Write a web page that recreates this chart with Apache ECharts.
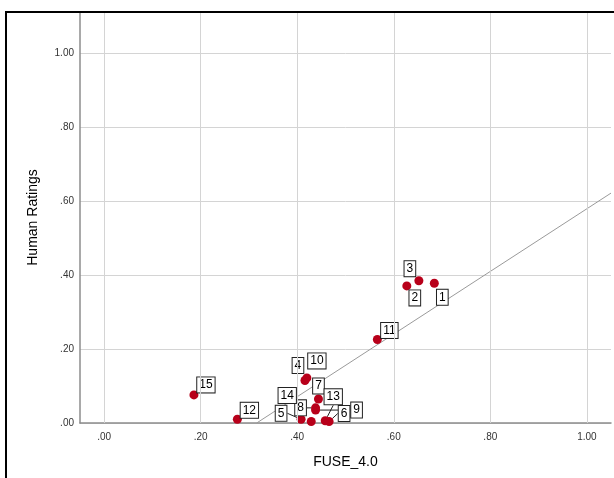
<!DOCTYPE html>
<html>
<head>
<meta charset="utf-8">
<script src="https://cdn.jsdelivr.net/npm/echarts@6/dist/echarts.min.js"></script>
<style>
  html, body { margin: 0; padding: 0; background: #fff; }
  #chart { width: 614px; height: 478px; }
</style>
</head>
<body>
<div id="chart"></div>
<script>
// case numbers and their scores
var caseIds = ['1','2','3','4','5','6','7','8','9','10','11','12','13','14','15'];
var fuseScores = [0.684, 0.627, 0.652, 0.416, 0.408, 0.466, 0.444, 0.438, 0.438, 0.420, 0.566, 0.276, 0.458, 0.429, 0.186];
var humanRatings = [0.378, 0.371, 0.385, 0.115, 0.010, 0.004, 0.065, 0.041, 0.035, 0.122, 0.226, 0.010, 0.006, 0.004, 0.076];

// fit line end points
var fitX = [0.316, 1.05];
var fitY = [0.0, 0.622];

var gridTicks = [0, 0.2, 0.4, 0.6, 0.8, 1.0];

// where each case label sits relative to its point (px), and which get a leader line
var labelOffsets = [[8,14],[8,12],[-9,-12],[-7,-15],[-20,-6],[15,-8],[0,-13],[-15,0],[41,0],[10,-17],[12,-9],[12,-9],[8,-24],[-24,-26],[12,-10]];
var leaderLines = ['5','6','8','9','13'];

var fmt = function (v) {
  return v.toFixed(2).replace(/^0/, '');
};

var points = caseIds.map(function (id, i) {
  var item = { value: [fuseScores[i], humanRatings[i]], name: id };
  if (leaderLines.indexOf(id) >= 0) {
    item.labelLine = { show: true, lineStyle: { color: '#222', width: 1 } };
  }
  return item;
});

var myChart = echarts.init(document.getElementById('chart'));

var axisFont = { fontFamily: 'Liberation Sans, Arial, sans-serif', fontSize: 10, color: '#333' };

var option = {
  backgroundColor: '#fff',
  animation: false,
  grid: { left: 80, right: -5.5, top: 12, bottom: 55 },
  xAxis: {
    type: 'value',
    min: -0.05,
    max: 1.05,
    interval: 0.05,
    name: 'FUSE_4.0',
    nameLocation: 'middle',
    nameGap: 32,
    nameTextStyle: { fontFamily: 'Liberation Sans, Arial, sans-serif', fontSize: 14, color: '#000' },
    axisLine: { show: true, onZero: false, lineStyle: { color: '#8c8c8c', width: 1.5 } },
    axisTick: { show: false },
    splitLine: { show: false },
    axisLabel: Object.assign({
      margin: 9,
      formatter: function (v) {
        var k = v / 0.2;
        if (Math.abs(k - Math.round(k)) > 1e-6 || v < -1e-6 || v > 1.0001) return '';
        return fmt(Math.round(k) * 0.2);
      }
    }, axisFont)
  },
  yAxis: {
    type: 'value',
    min: 0,
    max: 1.112,
    interval: 0.2,
    name: 'Human Ratings',
    nameLocation: 'middle',
    nameGap: 40,
    nameTextStyle: { fontFamily: 'Liberation Sans, Arial, sans-serif', fontSize: 14, color: '#000' },
    axisLine: { show: true, onZero: false, lineStyle: { color: '#8c8c8c', width: 1.5 } },
    axisTick: { show: false },
    splitLine: { show: true, lineStyle: { color: '#d4d4d4', width: 1 } },
    axisLabel: Object.assign({
      margin: 6,
      showMaxLabel: false,
      formatter: function (v) {
        if (v > 1.0001) return '';
        return fmt(v);
      }
    }, axisFont)
  },
  series: [
    {
      type: 'line',
      data: fitX.map(function (x, i) { return [x, fitY[i]]; }),
      symbol: 'none',
      lineStyle: { color: '#9a9a9a', width: 1 },
      silent: true,
      z: 1,
      markLine: {
        silent: true,
        symbol: 'none',
        label: { show: false },
        lineStyle: { color: '#d4d4d4', width: 1, type: 'solid' },
        data: gridTicks.map(function (t) { return { xAxis: t }; })
      }
    },
    {
      type: 'scatter',
      data: points,
      symbolSize: 9,
      itemStyle: { color: '#b8001a', opacity: 1 },
      z: 3,
      label: {
        show: true,
        position: 'inside',
        formatter: '{b}',
        fontFamily: 'Liberation Sans, Arial, sans-serif',
        fontSize: 12,
        color: '#000',
        backgroundColor: '#fff',
        borderColor: '#222',
        borderWidth: 1,
        padding: [2, 2, 1, 2]
      },
      labelLine: { show: false },
      labelLayout: function (params) {
        var o = labelOffsets[params.dataIndex];
        return { dx: o[0], dy: o[1] };
      }
    }
  ],
  graphic: [{
    type: 'rect',
    z: 100,
    silent: true,
    shape: { x: 6, y: 12, width: 700, height: 700 },
    style: { fill: 'none', stroke: '#000', lineWidth: 2 }
  }]
};

myChart.setOption(option);

window.onresize = function () {
  myChart.resize();
};
</script>
</body>
</html>
